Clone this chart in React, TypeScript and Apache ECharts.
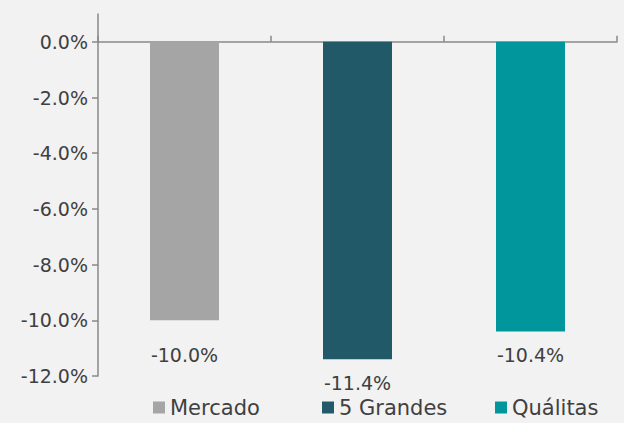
import React, { useEffect, useRef } from "react";
import * as echarts from "echarts";

const categories = ["Mercado", "5 Grandes", "Quálitas"];
const values = [-10.0, -11.4, -10.4];
const colors = ["#a5a5a5", "#215968", "#00969c"];
const labelDistances = [25, 14, 14];
const yTicks = [-12, -10, -8, -6, -4, -2, 0];
const legendLefts = [153, 322, 495];

export default function App() {
  const ref = useRef<HTMLDivElement>(null);
  useEffect(() => {
    if (!ref.current) return;
    const chart = echarts.init(ref.current, null, { renderer: "svg" });
    const font = "DejaVu Sans";
    const series = categories.map((name, i) => ({
      name,
      type: "bar",
      barWidth: 69,
      barGap: "-100%",
      itemStyle: { color: colors[i] },
      label: {
        show: true,
        position: "bottom",
        distance: labelDistances[i],
        color: "#404040",
        fontFamily: font,
        fontSize: 19,
        formatter: (p: any) => p.value.toFixed(1) + "%",
      },
      data: categories.map((_, j) => (j === i ? values[i] : null)),
    }));
    const legend = categories.map((name, i) => ({
      left: legendLefts[i],
      top: 397,
      padding: 0,
      itemWidth: 12,
      itemHeight: 12,
      icon: "rect",
      textStyle: { color: "#404040", fontFamily: font, fontSize: 21 },
      data: [name],
    }));
    chart.setOption({
      animation: false,
      backgroundColor: "#f2f2f2",
      grid: { left: 98, right: 7, top: 14, bottom: 47 },
      legend,
      xAxis: {
        type: "category",
        data: categories,
        position: "top",
        axisLine: { onZero: true, lineStyle: { color: "#898989", width: 1.5 } },
        axisTick: { show: true, length: 6, lineStyle: { color: "#898989", width: 1.5 } },
        axisLabel: { show: false },
        splitLine: { show: false },
      },
      yAxis: {
        type: "value",
        min: -12,
        max: 1,
        interval: 2,
        axisLine: { show: true, lineStyle: { color: "#898989", width: 1.5 } },
        axisTick: { show: true, length: 6, customValues: yTicks, lineStyle: { color: "#898989", width: 1.5 } },
        axisLabel: {
          customValues: yTicks,
          color: "#404040",
          fontFamily: font,
          fontSize: 19,
          margin: 10,
          formatter: (v: number) => v.toFixed(1) + "%",
        },
        splitLine: { show: false },
      },
      series,
    });
    return () => chart.dispose();
  }, []);
  return (
    <div
      ref={ref}
      style={{ position: "absolute", left: 0, top: 0, width: 624, height: 423 }}
    />
  );
}
